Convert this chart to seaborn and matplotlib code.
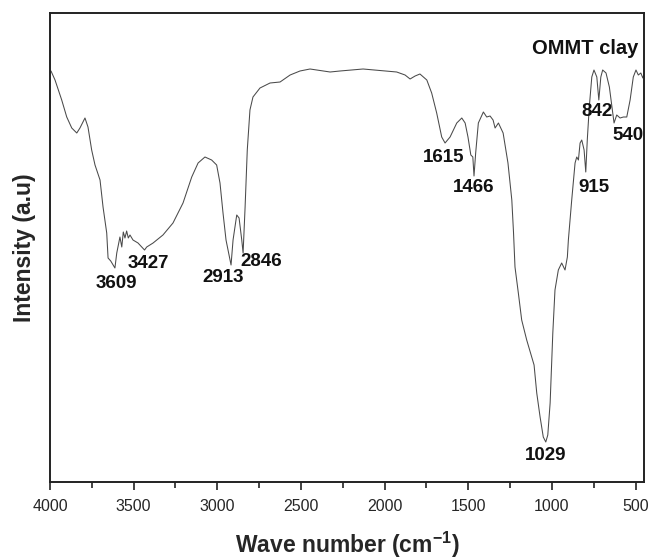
import matplotlib
matplotlib.use("Agg")
import matplotlib.pyplot as plt
import seaborn as sns
import pandas as pd
from matplotlib.ticker import MultipleLocator

# FTIR spectrum of organo-modified montmorillonite (OMMT) clay
wavenumber = [
    3994, 3970, 3930, 3900, 3870, 3840, 3821, 3791, 3773, 3751,
    3731, 3701, 3683, 3661, 3653, 3637, 3612, 3601, 3582, 3571,
    3562, 3552, 3542, 3532, 3522, 3504, 3474, 3435, 3422, 3384,
    3325, 3265, 3205, 3153, 3115, 3074, 3034, 3004, 2984, 2966,
    2948, 2918, 2906, 2884, 2870, 2854, 2846, 2834, 2821, 2805,
    2787, 2745, 2685, 2625, 2565, 2506, 2446, 2368, 2326, 2267,
    2129, 1928, 1878, 1848, 1818, 1789, 1748, 1719, 1689, 1659,
    1639, 1609, 1569, 1539, 1519, 1502, 1485, 1473, 1466, 1456,
    1440, 1410, 1390, 1370, 1352, 1340, 1320, 1292, 1263, 1240,
    1230, 1221, 1201, 1181, 1151, 1121, 1107, 1091, 1071, 1052,
    1037, 1025, 1011, 995, 982, 962, 942, 922, 908, 902,
    882, 862, 852, 842, 832, 822, 808, 798, 789, 777,
    762, 749, 732, 720, 708, 697, 677, 657, 643, 629,
    613, 593, 573, 553, 533, 514, 498, 484, 469, 457,
    445,
]
intensity = [
    411, 402, 382, 365, 354, 349, 354, 364, 355, 332,
    317, 302, 275, 249, 224, 221, 214, 229, 245, 235,
    250, 244, 251, 244, 247, 242, 239, 232, 235, 239,
    247, 259, 279, 305, 319, 325, 322, 317, 299, 269,
    242, 217, 242, 267, 264, 242, 229, 275, 332, 372,
    385, 394, 399, 400, 407, 411, 413, 411, 410, 411,
    413, 410, 407, 403, 406, 408, 402, 389, 369, 345,
    339, 345, 359, 364, 359, 345, 327, 325, 306, 329,
    359, 370, 365, 366, 362, 354, 359, 349, 319, 282,
    250, 215, 189, 162, 142, 125, 117, 89, 65, 45,
    40, 47, 79, 149, 192, 212, 219, 212, 225, 242,
    282, 319, 325, 322, 339, 342, 332, 310, 342, 375,
    405, 412, 405, 382, 405, 412, 409, 395, 377, 359,
    367, 364, 365, 365, 382, 405, 412, 407, 409, 404,
    410,
]

# Band labels and where they sit (wavenumber, intensity)
band_labels = ["3609", "3427", "2913", "2846", "1615", "1466", "915", "842", "540", "1029"]
band_label_x = [3601, 3412, 2964, 2735, 1649, 1466, 747, 732, 543, 1037]
band_label_y = [199, 219, 205, 220, 324, 295, 294, 370, 346, 27]

sample_name = "OMMT clay"

sns.set_theme(style="ticks")
plt.rcParams["font.family"] = ["Liberation Sans", "DejaVu Sans"]
plt.rcParams["mathtext.fontset"] = "custom"
plt.rcParams["mathtext.rm"] = "Liberation Sans"
plt.rcParams["mathtext.bf"] = "Liberation Sans:bold"

df = pd.DataFrame({"wavenumber": wavenumber, "intensity": intensity})

fig, ax = plt.subplots(figsize=(6.51, 5.59), dpi=100)
fig.subplots_adjust(left=50 / 651, right=644 / 651, bottom=1 - 482 / 559, top=1 - 13 / 559)

sns.lineplot(data=df, x="wavenumber", y="intensity", sort=False, estimator=None,
             color="#4a4a4a", linewidth=0.75, ax=ax)

ax.set_xlim(4000, 450)
ax.set_ylim(0, 469)
ax.set_yticks([])
ax.xaxis.set_major_locator(MultipleLocator(500))
ax.xaxis.set_minor_locator(MultipleLocator(250))
ax.tick_params(axis="x", which="major", direction="out", length=6, width=1.2,
               labelsize=11.5, color="#222222", pad=6.5)
ax.tick_params(axis="x", which="minor", direction="out", length=4, width=1.2,
               color="#222222")
for side in ["left", "right", "top", "bottom"]:
    ax.spines[side].set_visible(True)
    ax.spines[side].set_linewidth(1.4)
    ax.spines[side].set_color("#222222")

ax.set_xlabel(r"Wave number (cm$^{\mathbf{-1}}$)", fontsize=16.5, fontweight="bold",
              labelpad=11)
ax.set_ylabel("Intensity (a.u)", fontsize=16.5, fontweight="bold", labelpad=10)

for txt, x, y in zip(band_labels, band_label_x, band_label_y):
    ax.text(x, y, txt, fontsize=13.5, fontweight="bold", ha="center", va="center",
            color="#111111")

ax.text(486, 433, sample_name, fontsize=14.5, fontweight="bold", ha="right",
        va="center", color="#111111")

fig.savefig("out.png", dpi=100)
